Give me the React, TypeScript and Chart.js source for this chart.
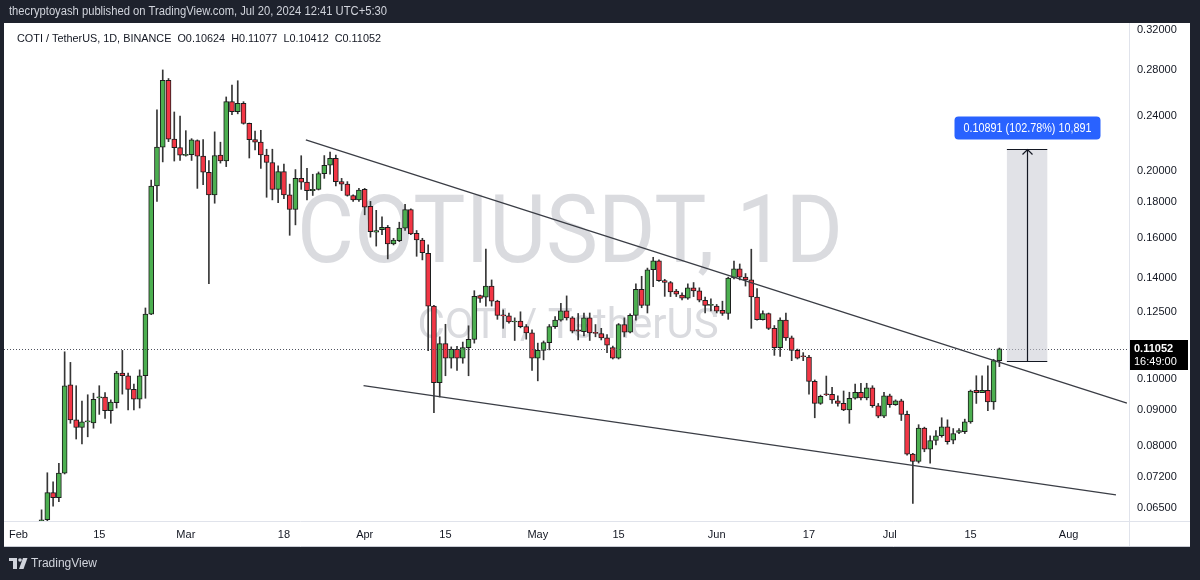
import React, { useEffect, useRef } from "react";
import { Chart, registerables } from "chart.js";

Chart.register(...registerables);

// ---------- data (daily candles, day 0 = Feb 1 2024) ----------
const FIRST_DAY = 4;

const opens = [
  0.0623, 0.0625, 0.0684, 0.0673, 0.0730, 0.0980, 0.0872, 0.0850, 0.0866, 0.0863,
  0.0938, 0.0941, 0.0899, 0.0923, 0.1019, 0.1010, 0.0965, 0.0934, 0.1010, 0.1240,
  0.1901, 0.2164, 0.2704, 0.2222, 0.2160, 0.2105, 0.2110, 0.2212, 0.2100, 0.1989,
  0.1846, 0.2108, 0.2066, 0.2518, 0.2436, 0.2504, 0.2342, 0.2219, 0.2200, 0.2108,
  0.2056, 0.1880, 0.1994, 0.1846, 0.1758, 0.1950, 0.1926, 0.1872, 0.1880, 0.1981,
  0.2037, 0.2084, 0.1929, 0.1913, 0.1842, 0.1815, 0.1880, 0.1776, 0.1630, 0.1643,
  0.1656, 0.1567, 0.1585, 0.1652, 0.1758, 0.1623, 0.1588, 0.1519, 0.1274, 0.0987,
  0.1124, 0.1071, 0.1103, 0.1071, 0.1109, 0.1140, 0.1319, 0.1312, 0.1362, 0.1295,
  0.1235, 0.1233, 0.1208, 0.1212, 0.1190, 0.1165, 0.1071, 0.1099, 0.1128, 0.1190,
  0.1216, 0.1254, 0.1225, 0.1177, 0.1170, 0.1225, 0.1164, 0.1162, 0.1146, 0.1109,
  0.1071, 0.1198, 0.1168, 0.1235, 0.1347, 0.1277, 0.1438, 0.1482, 0.1387, 0.1378,
  0.1339, 0.1322, 0.1308, 0.1354, 0.1340, 0.1299, 0.1277, 0.1274, 0.1256, 0.1243,
  0.1399, 0.1442, 0.1403, 0.1390, 0.1313, 0.1218, 0.1243, 0.1183, 0.1109, 0.1216,
  0.1146, 0.1099, 0.1077, 0.1075, 0.0991, 0.0921, 0.0949, 0.0949, 0.0929, 0.0921,
  0.0901, 0.0937, 0.0956, 0.0938, 0.0970, 0.0914, 0.0883, 0.0945, 0.0917, 0.0929,
  0.0888, 0.0778, 0.0759, 0.0848, 0.0791, 0.0814, 0.0827, 0.0852, 0.0815, 0.0836,
  0.0838, 0.0866, 0.0962, 0.0955, 0.0962, 0.0926, 0.10624,
];

const highs = [
  0.0646, 0.0731, 0.0709, 0.0754, 0.1094, 0.1056, 0.0977, 0.0928, 0.0948, 0.0953,
  0.0977, 0.0955, 0.0932, 0.1025, 0.1099, 0.1019, 0.0982, 0.1030, 0.1266, 0.1939,
  0.2451, 0.2799, 0.2720, 0.2433, 0.2400, 0.2286, 0.2226, 0.2217, 0.2219, 0.2070,
  0.2277, 0.2200, 0.2558, 0.2661, 0.2700, 0.2518, 0.2345, 0.2282, 0.2289, 0.2149,
  0.2149, 0.2034, 0.2045, 0.1913, 0.2008, 0.2103, 0.2016, 0.1977, 0.1992, 0.2104,
  0.2128, 0.2108, 0.1950, 0.1929, 0.1846, 0.1886, 0.1886, 0.1806, 0.1753, 0.1716,
  0.1667, 0.1597, 0.1685, 0.1788, 0.1762, 0.1639, 0.1597, 0.1562, 0.1277, 0.1150,
  0.1199, 0.1112, 0.1114, 0.1130, 0.1193, 0.1341, 0.1322, 0.1540, 0.1390, 0.1299,
  0.1258, 0.1245, 0.1225, 0.1250, 0.1198, 0.1177, 0.1126, 0.1134, 0.1198, 0.1230,
  0.1286, 0.1318, 0.1230, 0.1243, 0.1245, 0.1245, 0.1198, 0.1183, 0.1159, 0.1115,
  0.1202, 0.1225, 0.1242, 0.1372, 0.1407, 0.1446, 0.1499, 0.1486, 0.1393, 0.1383,
  0.1347, 0.1332, 0.1372, 0.1378, 0.1354, 0.1313, 0.1305, 0.1281, 0.1295, 0.1403,
  0.1480, 0.1466, 0.1420, 0.1540, 0.1350, 0.1254, 0.1245, 0.1194, 0.1225, 0.1245,
  0.1153, 0.1104, 0.1091, 0.1081, 0.0996, 0.0947, 0.1009, 0.0972, 0.0945, 0.0960,
  0.0956, 0.0982, 0.0985, 0.0985, 0.0977, 0.0921, 0.0956, 0.0950, 0.0932, 0.0934,
  0.0898, 0.0780, 0.0858, 0.0851, 0.0827, 0.0841, 0.0878, 0.0872, 0.0847, 0.0847,
  0.0874, 0.0963, 0.1010, 0.1010, 0.1044, 0.1067, 0.11077,
];

const lows = [
  0.0620, 0.0623, 0.0654, 0.0664, 0.0728, 0.0862, 0.0818, 0.0805, 0.0824, 0.0848,
  0.0888, 0.0876, 0.0862, 0.0907, 0.0950, 0.0901, 0.0901, 0.0907, 0.0937, 0.1238,
  0.1806, 0.2060, 0.2204, 0.2066, 0.2070, 0.2100, 0.2070, 0.1886, 0.1909, 0.1373,
  0.1795, 0.2052, 0.2028, 0.2411, 0.2418, 0.2336, 0.2087, 0.2144, 0.2016, 0.1831,
  0.1815, 0.1799, 0.1822, 0.1613, 0.1670, 0.1880, 0.1815, 0.1842, 0.1876, 0.1950,
  0.1977, 0.1901, 0.1872, 0.1838, 0.1806, 0.1806, 0.1727, 0.1603, 0.1556, 0.1616,
  0.1491, 0.1562, 0.1579, 0.1639, 0.1616, 0.1504, 0.1486, 0.1098, 0.0893, 0.0941,
  0.1010, 0.1036, 0.1028, 0.1053, 0.1010, 0.1126, 0.1290, 0.1274, 0.1274, 0.1219,
  0.1183, 0.1203, 0.1136, 0.1185, 0.1141, 0.1028, 0.0993, 0.1065, 0.1101, 0.1183,
  0.1212, 0.1216, 0.1165, 0.1138, 0.1153, 0.1136, 0.1150, 0.1138, 0.1091, 0.1068,
  0.1068, 0.1151, 0.1165, 0.1216, 0.1267, 0.1245, 0.1359, 0.1383, 0.1316, 0.1315,
  0.1315, 0.1300, 0.1303, 0.1315, 0.1292, 0.1245, 0.1254, 0.1245, 0.1235, 0.1219,
  0.1395, 0.1390, 0.1362, 0.1183, 0.1216, 0.1216, 0.1178, 0.1081, 0.1077, 0.1136,
  0.1062, 0.1068, 0.1062, 0.0950, 0.0878, 0.0918, 0.0945, 0.0921, 0.0913, 0.0899,
  0.0862, 0.0934, 0.0932, 0.0932, 0.0909, 0.0878, 0.0878, 0.0909, 0.0915, 0.0870,
  0.0775, 0.0660, 0.0755, 0.0784, 0.0755, 0.0802, 0.0823, 0.0804, 0.0805, 0.0833,
  0.0833, 0.0862, 0.0921, 0.0955, 0.0899, 0.0903, 0.10412,
];

const closes = [
  0.0625, 0.0684, 0.0673, 0.0730, 0.0977, 0.0872, 0.0850, 0.0866, 0.0867, 0.0934,
  0.0941, 0.0899, 0.0925, 0.1019, 0.1010, 0.0965, 0.0934, 0.1010, 0.1240, 0.1901,
  0.2164, 0.2704, 0.2222, 0.2160, 0.2107, 0.2108, 0.2217, 0.2100, 0.1990, 0.1846,
  0.2104, 0.2067, 0.2518, 0.2436, 0.2504, 0.2342, 0.2219, 0.2200, 0.2108, 0.2056,
  0.1880, 0.1994, 0.1846, 0.1758, 0.1950, 0.1926, 0.1872, 0.1880, 0.1981, 0.2037,
  0.2084, 0.1929, 0.1913, 0.1842, 0.1815, 0.1876, 0.1771, 0.1633, 0.1639, 0.1656,
  0.1567, 0.1588, 0.1652, 0.1758, 0.1621, 0.1588, 0.1522, 0.1274, 0.0987, 0.1124,
  0.1071, 0.1103, 0.1071, 0.1109, 0.1140, 0.1316, 0.1307, 0.1362, 0.1295, 0.1235,
  0.1233, 0.1208, 0.1209, 0.1190, 0.1165, 0.1071, 0.1099, 0.1128, 0.1190, 0.1216,
  0.1254, 0.1225, 0.1172, 0.1172, 0.1225, 0.1165, 0.1163, 0.1146, 0.1118, 0.1071,
  0.1198, 0.1168, 0.1235, 0.1347, 0.1277, 0.1438, 0.1482, 0.1387, 0.1378, 0.1336,
  0.1326, 0.1308, 0.1354, 0.1340, 0.1299, 0.1277, 0.1278, 0.1253, 0.1243, 0.1399,
  0.1442, 0.1403, 0.1390, 0.1313, 0.1218, 0.1243, 0.1183, 0.1109, 0.1216, 0.1146,
  0.1099, 0.1071, 0.1076, 0.0991, 0.0921, 0.0943, 0.0948, 0.0932, 0.0921, 0.0901,
  0.0937, 0.0956, 0.0938, 0.0970, 0.0914, 0.0883, 0.0945, 0.0917, 0.0929, 0.0888,
  0.0778, 0.0759, 0.0848, 0.0791, 0.0814, 0.0827, 0.0852, 0.0811, 0.0833, 0.0841,
  0.0866, 0.0960, 0.0955, 0.0962, 0.0926, 0.1062, 0.11052,
];

const xTickDays = [0, 14, 29, 46, 60, 74, 90, 104, 121, 137, 151, 165, 182];
const xTickLabels = ["Feb", "15", "Mar", "18", "Apr", "15", "May", "15", "Jun", "17", "Jul", "15", "Aug"];
const yTickValues = [0.065, 0.072, 0.08, 0.09, 0.1, 0.125, 0.14, 0.16, 0.18, 0.2, 0.24, 0.28, 0.32];

const upperTrendDays = [49.8, 192.1];
const upperTrendPrices = [0.2217, 0.0922];
const lowerTrendDays = [59.8, 190.2];
const lowerTrendPrices = [0.0977, 0.0679];

const measureDays = [171.3, 178.3];
const measurePrices = [0.10597, 0.21488];
const measureText = "0.10891 (102.78%) 10,891";

const lastPrice = 0.11052;
const countdownText = "16:49:00";
const headerText = "COTI / TetherUS, 1D, BINANCE  O0.10624  H0.11077  L0.10412  C0.11052";
const publishText = "thecryptoyash published on TradingView.com, Jul 20, 2024 12:41 UTC+5:30";
const watermarkMain = "COTIUSDT, 1D";
const watermarkSub = "COTI / TetherUS";
const brandText = "TradingView";

const X_MIN = -2.51;
const X_MAX = 192.46;
const Y_MIN = 0.06224;
const Y_MAX = 0.3273;

const UP = "#4caf50";
const DOWN = "#f23645";
const FONT = '"Liberation Sans", Arial, sans-serif';

function roundRectPath(c: CanvasRenderingContext2D, x: number, y: number, w: number, h: number, r: number) {
  c.beginPath();
  c.moveTo(x + r, y);
  c.lineTo(x + w - r, y);
  c.quadraticCurveTo(x + w, y, x + w, y + r);
  c.lineTo(x + w, y + h - r);
  c.quadraticCurveTo(x + w, y + h, x + w - r, y + h);
  c.lineTo(x + r, y + h);
  c.quadraticCurveTo(x, y + h, x, y + h - r);
  c.lineTo(x, y + r);
  c.quadraticCurveTo(x, y, x + r, y);
  c.closePath();
}

const decorPlugin = {
  id: "decor",
  beforeDraw(chart: any) {
    const c = chart.ctx as CanvasRenderingContext2D;
    c.save();
    c.fillStyle = "#1e222d";
    c.fillRect(0, 0, 1200, 580);
    c.fillStyle = "#ffffff";
    c.fillRect(4, 23, 1186, 524);
    c.restore();
  },
  beforeDatasetsDraw(chart: any) {
    const c = chart.ctx as CanvasRenderingContext2D;
    c.save();
    c.fillStyle = "#dadbdf";
    c.textAlign = "center";
    c.textBaseline = "alphabetic";
    c.font = "94px Roboto, sans-serif";
    c.fillText(watermarkMain, 570, 262, 546);
    c.font = "42px Roboto, sans-serif";
    c.fillText(watermarkSub, 568, 338, 322);
    c.restore();
  },
  afterDatasetsDraw(chart: any) {
    const c = chart.ctx as CanvasRenderingContext2D;
    const xs = chart.scales.x;
    const ys = chart.scales.y;
    const area = chart.chartArea;
    c.save();
    // last price dotted line
    const py = Math.round(ys.getPixelForValue(lastPrice)) + 0.5;
    c.strokeStyle = "#50535e";
    c.lineWidth = 1;
    c.setLineDash([1, 2]);
    c.beginPath();
    c.moveTo(area.left, py);
    c.lineTo(area.right, py);
    c.stroke();
    c.setLineDash([]);

    // price range measurement
    const x1 = xs.getPixelForValue(measureDays[0]);
    const x2 = xs.getPixelForValue(measureDays[1]);
    const yb = Math.round(ys.getPixelForValue(measurePrices[0])) + 0.5;
    const yt = Math.round(ys.getPixelForValue(measurePrices[1])) + 0.5;
    c.fillStyle = "rgba(200,203,211,0.55)";
    c.fillRect(x1, yt, x2 - x1, yb - yt);
    c.strokeStyle = "#131722";
    c.lineWidth = 1;
    c.beginPath();
    c.moveTo(x1, yt);
    c.lineTo(x2, yt);
    c.moveTo(x1, yb);
    c.lineTo(x2, yb);
    c.stroke();
    const cx = Math.round((x1 + x2) / 2) + 0.5;
    c.lineWidth = 1.2;
    c.beginPath();
    c.moveTo(cx, yb);
    c.lineTo(cx, yt);
    c.moveTo(cx - 5, yt + 5);
    c.lineTo(cx, yt);
    c.lineTo(cx + 5, yt + 5);
    c.stroke();
    const lw = 146;
    const lh = 23;
    const lx = cx - lw / 2;
    const ly = yt - 33;
    c.fillStyle = "#2962ff";
    roundRectPath(c, lx, ly, lw, lh, 4);
    c.fill();
    c.fillStyle = "#ffffff";
    c.font = "12px " + FONT;
    c.textAlign = "center";
    c.textBaseline = "middle";
    c.fillText(measureText, cx, ly + lh / 2 + 0.5, 128);
    c.restore();
  },
  afterDraw(chart: any) {
    const c = chart.ctx as CanvasRenderingContext2D;
    const ys = chart.scales.y;
    const area = chart.chartArea;
    c.save();
    // separators
    c.strokeStyle = "#e0e3eb";
    c.lineWidth = 1;
    c.beginPath();
    c.moveTo(area.right + 0.5, 23);
    c.lineTo(area.right + 0.5, 547);
    c.moveTo(4, area.bottom + 0.5);
    c.lineTo(1190, area.bottom + 0.5);
    c.stroke();
    c.strokeStyle = "#c9ccd4";
    c.beginPath();
    c.moveTo(4, 546.5);
    c.lineTo(1190, 546.5);
    c.stroke();

    // top publish line
    c.fillStyle = "#d1d4dc";
    c.font = "12px " + FONT;
    c.textAlign = "left";
    c.textBaseline = "middle";
    c.fillText(publishText, 9, 12, 378);

    // legend header
    c.fillStyle = "#131722";
    c.font = "11px " + FONT;
    c.fillText(headerText, 17, 38.5, 364);

    // price label on axis
    const py = ys.getPixelForValue(lastPrice);
    c.fillStyle = "#000000";
    c.fillRect(area.right + 1, Math.round(py) - 9, 58, 30);
    c.fillStyle = "#ffffff";
    c.font = "bold 11px " + FONT;
    c.fillText(lastPrice.toFixed(5), area.right + 5, py);
    c.font = "11px " + FONT;
    c.fillText(countdownText, area.right + 5, py + 13);

    // bottom brand
    c.fillStyle = "#d1d4dc";
    c.fillRect(9, 558, 8, 3);
    c.fillRect(13, 558, 4, 11);
    c.beginPath();
    c.arc(20, 560, 1.8, 0, Math.PI * 2);
    c.fill();
    c.beginPath();
    c.moveTo(23, 558);
    c.lineTo(27.5, 558);
    c.lineTo(23.5, 569);
    c.lineTo(19, 569);
    c.closePath();
    c.fill();
    c.font = "12px " + FONT;
    c.fillText(brandText, 31, 564);
    c.restore();
  },
};

export default function App() {
  const ref = useRef<HTMLCanvasElement | null>(null);

  useEffect(() => {
    document.body.style.margin = "0";
    const canvas = ref.current;
    if (!canvas) return;

    const days = opens.map((_, i) => FIRST_DAY + i);
    const colors = opens.map((o, i) => (closes[i] >= o ? UP : DOWN));

    const chart = new Chart(canvas, {
      type: "bar",
      data: {
        datasets: [
          {
            type: "line",
            data: upperTrendDays.map((d, i) => ({ x: d, y: upperTrendPrices[i] })),
            borderColor: "#3a3d45",
            borderWidth: 1.3,
            pointRadius: 0,
            order: 0,
          } as any,
          {
            type: "line",
            data: lowerTrendDays.map((d, i) => ({ x: d, y: lowerTrendPrices[i] })),
            borderColor: "#3a3d45",
            borderWidth: 1.3,
            pointRadius: 0,
            order: 0,
          } as any,
          {
            type: "bar",
            data: days.map((d, i) => ({
              x: d,
              y: [Math.min(opens[i], closes[i]), Math.max(opens[i], closes[i])],
            })),
            backgroundColor: colors,
            borderColor: "#1c1c1c",
            borderWidth: 1,
            borderSkipped: false,
            barThickness: 5,
            minBarLength: 1,
            grouped: false,
            order: 1,
          } as any,
          {
            type: "bar",
            data: days.map((d, i) => ({ x: d, y: [lows[i], highs[i]] })),
            backgroundColor: "#363636",
            borderWidth: 0,
            barThickness: 1,
            grouped: false,
            order: 2,
          } as any,
        ],
      },
      options: {
        responsive: false,
        animation: false,
        devicePixelRatio: 1,
        events: [],
        layout: { padding: { left: 4, top: 23, right: 10, bottom: 33 } },
        plugins: {
          legend: { display: false },
          tooltip: { enabled: false },
        },
        scales: {
          x: {
            type: "linear",
            min: X_MIN,
            max: X_MAX,
            bounds: "data",
            offset: false,
            grid: { display: false, drawTicks: false },
            border: { display: false },
            afterBuildTicks: (s: any) => {
              s.ticks = xTickDays.map((v) => ({ value: v }));
            },
            afterFit: (s: any) => {
              s.height = 26;
            },
            ticks: {
              autoSkip: false,
              maxRotation: 0,
              minRotation: 0,
              padding: 7,
              color: "#131722",
              font: { family: FONT, size: 11 },
              callback: (_v: any, i: number) => xTickLabels[i],
            },
          },
          y: {
            type: "logarithmic",
            position: "right",
            min: Y_MIN,
            max: Y_MAX,
            bounds: "data",
            grid: { display: false, drawTicks: false },
            border: { display: false },
            afterBuildTicks: (s: any) => {
              s.ticks = yTickValues.map((v) => ({ value: v }));
            },
            afterFit: (s: any) => {
              s.width = 61;
            },
            ticks: {
              autoSkip: false,
              padding: 8,
              color: "#131722",
              font: { family: FONT, size: 11 },
              callback: (v: any) => Number(v).toFixed(5),
            },
          },
        } as any,
      },
      plugins: [decorPlugin],
    } as any);

    return () => chart.destroy();
  }, []);

  return (
    <canvas
      ref={ref}
      width={1200}
      height={580}
      style={{ display: "block", width: 1200, height: 580 }}
    />
  );
}
